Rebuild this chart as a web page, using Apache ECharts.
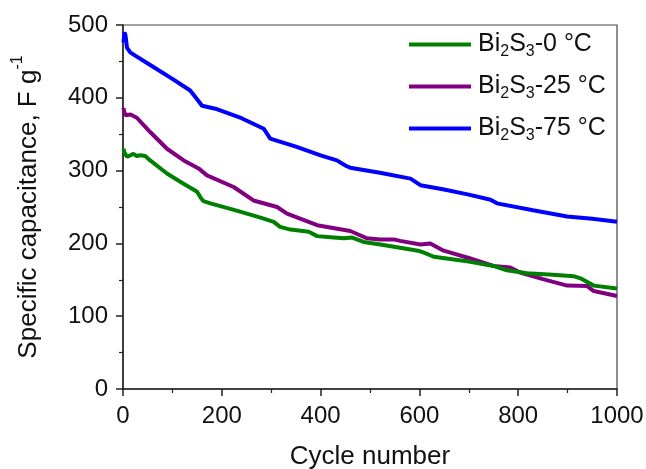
<!DOCTYPE html>
<html>
<head>
<meta charset="utf-8">
<script src="https://cdn.jsdelivr.net/npm/echarts@6/dist/echarts.min.js"></script>
<style>
  html, body { margin: 0; padding: 0; background: #fff; }
  #chart { width: 646px; height: 469px; }
</style>
</head>
<body>
<div id="chart"></div>
<script>
// Cycling stability of Bi2S3 electrodes prepared at different temperatures
const seriesNames = ['Bi2S3-0 °C', 'Bi2S3-25 °C', 'Bi2S3-75 °C'];
const seriesLabels = ['-0 °C', '-25 °C', '-75 °C'];
const seriesColors = ['#008000', '#800080', '#0000ff'];

const cycles0 = [1, 3, 8, 15, 21, 28, 35, 45, 55, 89, 120, 150, 158, 163, 177, 230, 280, 305, 318, 339, 376, 393, 420, 447, 464, 487, 521, 561, 600, 608, 629, 700, 750, 777, 818, 870, 912, 926, 953, 1000];
const values0 = [330, 325, 319, 321, 323, 320, 321, 320, 314, 296, 283, 271, 262, 258, 255, 245, 235, 229.6, 222.7, 219, 216, 210, 208.5, 207, 208, 202, 198.6, 194, 189.5, 187.7, 181.7, 175, 169, 163, 159, 157, 155, 152, 142, 138];

const cycles25 = [1, 2, 5, 15, 28, 55, 89, 123, 153, 170, 224, 264, 312, 332, 393, 460, 467, 494, 521, 548, 561, 602, 622, 649, 700, 750, 784, 804, 850, 899, 939, 953, 1000];
const values25 = [386, 382, 376, 377, 372.6, 353, 330, 314, 303, 293.5, 277.5, 259, 250, 241, 225, 217, 215, 207, 205.5, 205.5, 203.5, 198.6, 200, 190, 180, 169, 167, 160, 151, 142, 141.5, 134.6, 127.8];

const cycles75 = [1, 3, 5, 8, 15, 60, 100, 136, 150, 160, 187, 240, 285, 298, 350, 400, 433, 445, 453, 460, 520, 582, 602, 650, 700, 744, 757, 830, 899, 950, 1000];
const values75 = [476, 490, 486, 469, 462, 443, 426, 410, 398, 389, 385, 372, 357.5, 344, 333, 321, 314, 309, 306, 304, 297, 289, 280, 274, 267, 260, 255, 245.6, 237, 234, 229.6];

const xTicks = [0, 200, 400, 600, 800, 1000];
const yTicks = [0, 100, 200, 300, 400, 500];

const pairs = (xs, ys) => xs.map((x, i) => [x, ys[i]]);
const seriesData = [pairs(cycles0, values0), pairs(cycles25, values25), pairs(cycles75, values75)];

const font = 'Liberation Sans, Arial, sans-serif';
const axisColor = '#222';

const chart = echarts.init(document.getElementById('chart'), null, { renderer: 'canvas' });

chart.setOption({
  animation: false,
  backgroundColor: '#fff',
  textStyle: { fontFamily: font, color: '#111' },
  grid: {
    left: 123, right: 29, top: 25, bottom: 80,
    containLabel: false, outerBoundsMode: 'none',
    show: true, borderColor: '#444', borderWidth: 1.2, backgroundColor: 'transparent'
  },
  legend: {
    orient: 'vertical',
    left: 404, top: 27,
    itemWidth: 62, itemHeight: 4, itemGap: 14.5,
    icon: 'rect',
    data: seriesNames,
    formatter: name => '{n|Bi}{s|2}{n|S}{s|3}{n|' + seriesLabels[seriesNames.indexOf(name)] + '}',
    textStyle: {
      fontFamily: font,
      padding: [0, 0, 0, 2],
      rich: {
        n: { fontSize: 25, fontFamily: font, color: '#111', lineHeight: 30, verticalAlign: 'middle' },
        s: { fontSize: 16, fontFamily: font, color: '#111', lineHeight: 7, verticalAlign: 'bottom' }
      }
    }
  },
  xAxis: {
    type: 'value', min: 0, max: 1000, interval: 200,
    name: 'Cycle number', nameLocation: 'middle', nameGap: 55,
    nameTextStyle: { fontSize: 26, fontFamily: font, color: '#111' },
    axisLine: { show: true, lineStyle: { color: axisColor, width: 1.5 } },
    axisTick: { show: true, inside: false, length: 7, lineStyle: { color: axisColor, width: 1.5 } },
    minorTick: { show: true, splitNumber: 2, length: 4, lineStyle: { color: axisColor, width: 1.2 } },
    axisLabel: {
      fontSize: 24, fontFamily: font, color: '#111', margin: 15,
      formatter: v => (xTicks.includes(v) ? String(v) : '')
    },
    splitLine: { show: false }
  },
  yAxis: {
    type: 'value', min: 0, max: 500, interval: 100,
    name: 'Specific capacitance, F g{sup|-1}', nameLocation: 'middle', nameGap: 75,
    nameTextStyle: {
      fontSize: 26, fontFamily: font, color: '#111',
      rich: { sup: { fontSize: 16, fontFamily: font, color: '#111', verticalAlign: 'top', lineHeight: 38 } }
    },
    axisLine: { show: true, lineStyle: { color: axisColor, width: 1.5 } },
    axisTick: { show: true, inside: false, length: 7, lineStyle: { color: axisColor, width: 1.5 } },
    minorTick: { show: true, splitNumber: 2, length: 4, lineStyle: { color: axisColor, width: 1.2 } },
    axisLabel: {
      fontSize: 24, fontFamily: font, color: '#111', margin: 15,
      formatter: v => (yTicks.includes(v) ? String(v) : '')
    },
    splitLine: { show: false }
  },
  series: seriesNames.map((name, i) => ({
    name,
    type: 'line',
    data: seriesData[i],
    showSymbol: false,
    symbol: 'none',
    color: seriesColors[i],
    lineStyle: { color: seriesColors[i], width: 4 },
    z: 3 - i
  }))
});
</script>
</body>
</html>
